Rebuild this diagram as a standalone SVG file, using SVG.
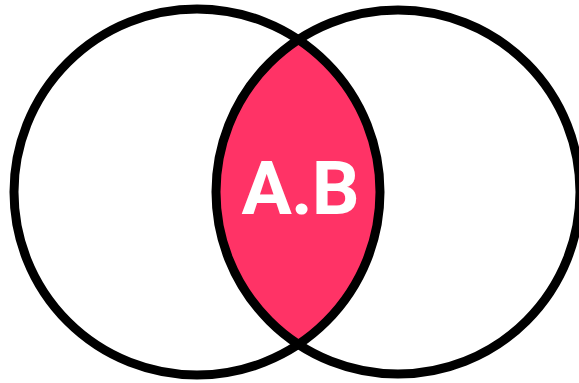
<svg xmlns="http://www.w3.org/2000/svg" width="579" height="383" viewBox="0 0 579 383">
  <style>
    .ring { fill: none; stroke: #000000; stroke-width: 9; }
    .lens { fill: #FF3366; stroke: none; }
    .label { font-family: Roboto, "Liberation Sans", sans-serif; font-weight: 700; font-size: 75px; letter-spacing: -1px; fill: #FFFFFF; text-anchor: middle; }
  </style>
  <rect width="579" height="383" fill="#FFFFFF"/>
  <g id="intersection">
    <path class="lens" d="M 298.4 39.7 A 183 183 0 0 1 298.4 344.3 A 182 182 0 0 1 298.4 39.7 Z"/>
  </g>
  <g id="setA">
    <circle class="ring" cx="197" cy="192" r="183"/>
  </g>
  <g id="setB">
    <circle class="ring" cx="398" cy="192" r="182"/>
  </g>
  <g id="label">
    <text class="label" x="300" y="214">A.B</text>
  </g>
</svg>
